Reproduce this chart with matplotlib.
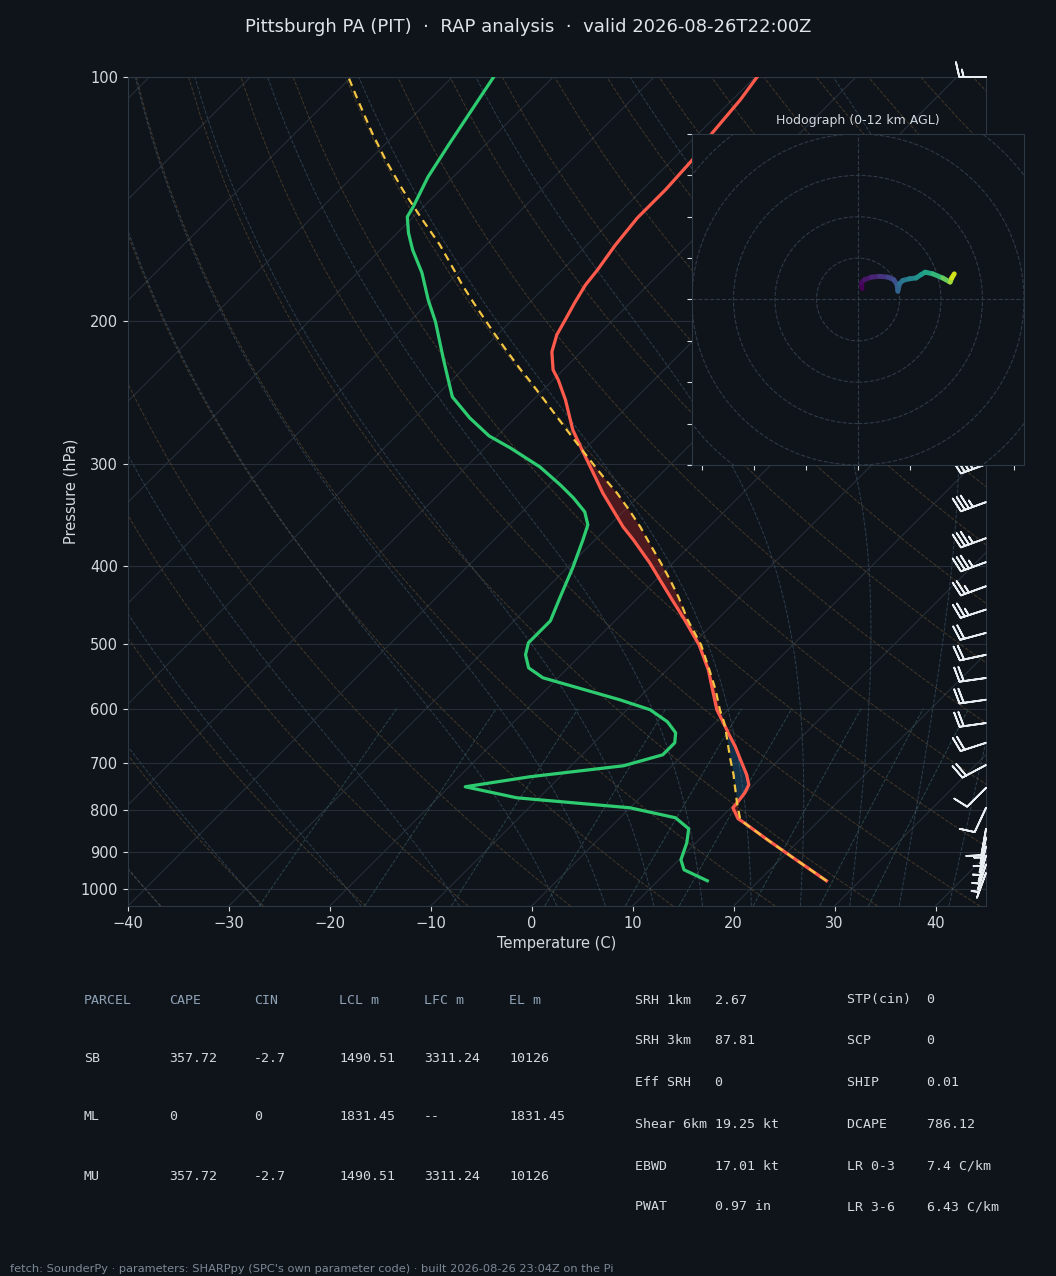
import numpy as np
import matplotlib
matplotlib.use('Agg')
import matplotlib.pyplot as plt
import matplotlib.transforms as mtransforms
from matplotlib.collections import LineCollection
from matplotlib.patches import Circle

BG = '#0f141a'
GRID = '#252e39'
SPINE = '#2d3845'
TXT = '#d3d9df'

# environment + surface parcel (hPa, C)
p_env = [977.6, 921.0, 870.3, 829.3, 819.9, 794.8, 781.4, 761.7, 744.6, 723.8,
         693.6, 668.5, 642.5, 622.8, 601.9, 568.8, 537.4, 500.6, 466.4, 436.9,
         416.4, 396.8, 371.7, 358.3, 341.4, 325.3, 313.5, 302.2, 288.0, 272.1,
         249.9, 236.1, 229.5, 218.1, 207.8, 199.8, 189.8, 180.4, 172.9, 161.0,
         149.2, 137.8, 126.5, 117.2, 106.7, 100.0]
temp = [26.7, 21.6, 16.8, 12.8, 11.8, 10.2, 10.1, 9.9, 9.5, 8.3,
        6.2, 4.4, 2.3, 0.7, -1.1, -3.5, -5.9, -9.3, -13.2, -16.9,
        -19.6, -22.3, -26.2, -28.5, -31.2, -33.9, -35.8, -37.7, -40.2, -43.1,
        -46.8, -49.5, -51.0, -52.9, -54.1, -54.7, -55.5, -56.2, -56.5, -57.2,
        -57.7, -57.7, -58.0, -58.7, -59.2, -59.8]
parcel = [26.7, 21.6, 16.8, 12.8, 12.0, 10.7, 10.0, 9.0, 8.1, 7.0,
          5.2, 3.7, 2.1, 0.8, -0.8, -3.2, -5.8, -9.1, -12.9, -16.1,
          -18.6, -21.2, -24.8, -26.8, -29.6, -32.5, -34.9, -37.2, -40.2, -43.7,
          -48.9, -52.4, -54.2, -57.3, -60.2, -62.5, -65.5, -68.4, -70.7, -74.6,
          -79.1, -83.7, -88.4, -92.4, -97.1, -100.3]

p_td = [977.6, 947.6, 921.0, 877.7, 843.5, 817.6, 794.8, 772.6, 748.8, 727.9,
        705.5, 683.9, 661.0, 642.5, 622.8, 601.9, 585.1, 549.7, 534.4, 515.0,
        497.8, 483.9, 467.7, 436.9, 401.3, 371.7, 356.2, 343.3, 330.0, 318.0,
        302.2, 286.4, 276.8, 263.0, 247.8, 232.8, 221.2, 200.3, 188.2, 174.3,
        163.3, 155.6, 148.7, 144.6, 132.8, 120.6, 100.0]
dewp = [14.9, 11.5, 10.2, 9.1, 7.9, 5.5, 0.0, -12.2, -18.4, -13.0,
        -4.8, -2.0, -2.0, -2.9, -4.8, -7.7, -11.7, -21.5, -23.9, -25.5,
        -26.4, -26.4, -26.4, -27.8, -29.5, -31.2, -32.2, -33.8, -36.3, -38.9,
        -42.7, -47.5, -50.8, -54.5, -58.3, -61.0, -63.2, -67.4, -70.3, -73.6,
        -76.8, -78.9, -80.6, -81.0, -82.5, -83.7, -85.9]

# winds (hPa, kt, deg)
p_barb = [100, 300, 334, 370, 396, 424, 453, 484, 515, 550, 585, 625, 661, 704,
          751, 795, 844, 865, 887, 910, 933, 956]
wspd = [15, 35, 35, 35, 35, 25, 25, 20, 20, 20, 20, 20, 20, 20,
        10, 10, 10, 5, 5, 5, 5, 5]
wdir = [270, 250, 250, 250, 250, 250, 252, 255, 258, 262, 262, 262, 252, 242,
        225, 205, 190, 192, 194, 196, 198, 200]

# hodograph (kt) coloured by height (km AGL)
hodo_u = [1.0, 0.8, 1.6, 3.2, 5.2, 7.2, 8.6, 9.4, 9.6, 10.0, 10.8, 12.4, 14.0,
          15.2, 16.2, 18.0, 20.4, 22.2, 22.6, 23.2]
hodo_v = [2.6, 4.0, 4.8, 5.4, 5.6, 5.4, 4.8, 3.6, 2.0, 3.8, 4.6, 5.0, 5.2,
          6.0, 6.6, 6.2, 5.2, 4.2, 5.2, 6.2]
hodo_z = [0.0, 0.3, 0.7, 1.2, 1.8, 2.4, 2.9, 3.3, 3.8, 4.3, 4.8, 5.4, 6.0,
          6.6, 7.2, 8.0, 9.2, 10.4, 11.2, 12.0]

table_cols = ['PARCEL', 'CAPE', 'CIN', 'LCL m', 'LFC m', 'EL m']
table_rows = [['SB', '357.72', '-2.7', '1490.51', '3311.24', '10126'],
              ['ML', '0', '0', '1831.45', '--', '1831.45'],
              ['MU', '357.72', '-2.7', '1490.51', '3311.24', '10126']]
params_a = [('SRH 1km', '2.67'), ('SRH 3km', '87.81'), ('Eff SRH', '0'),
            ('Shear 6km', '19.25 kt'), ('EBWD', '17.01 kt'), ('PWAT', '0.97 in')]
params_b = [('STP(cin)', '0'), ('SCP', '0'), ('SHIP', '0.01'),
            ('DCAPE', '786.12'), ('LR 0-3', '7.4 C/km'), ('LR 3-6', '6.43 C/km')]


def moist_rate(T, p):
    es = 6.112 * np.exp(17.67 * (T - 273.15) / (T - 29.65))
    rs = 0.622 * es / (p - es)
    return (287.04 * T + 2.501e6 * rs) / (1005.7 + 2.501e6 ** 2 * rs * 0.622 / (287.04 * T ** 2))


def moist_adiabats(t0, p_end, n):
    x = np.linspace(np.log(1000.0), np.log(p_end), n)
    T = np.zeros((n, len(t0)))
    T[0] = t0 + 273.15
    for i in range(n - 1):
        h = x[i + 1] - x[i]
        t = T[i]
        k1 = moist_rate(t, np.exp(x[i]))
        k2 = moist_rate(t + h * k1 / 2, np.exp(x[i] + h / 2))
        k3 = moist_rate(t + h * k2 / 2, np.exp(x[i] + h / 2))
        k4 = moist_rate(t + h * k3, np.exp(x[i + 1]))
        T[i + 1] = t + h * (k1 + 2 * k2 + 2 * k3 + k4) / 6
    return np.exp(x), T - 273.15


fig = plt.figure(figsize=(10.56, 12.76), dpi=100, facecolor=BG)
ax = fig.add_axes([0.1212, 0.2900, 0.8125, 0.6497], facecolor=BG)
ax.set_yscale('log')
ax.set_ylim(1050, 100)
ax.set_xlim(-40, 45)
ax.autoscale(False)

# skew 45 deg on screen
pos = ax.get_position()
k = (pos.height * 12.76) / (pos.width * 10.56)
skew = ax.transScale + ax.transLimits + mtransforms.Affine2D().skew(np.arctan(k), 0) + ax.transAxes

for p in range(100, 1001, 100):
    ax.axhline(p, color=GRID, lw=0.8, zorder=1)
for t in range(-130, 50, 10):
    ax.plot([t, t], [1050, 100], color=GRID, lw=0.8, transform=skew, zorder=1)

pp = np.linspace(1050, 100, 80)
for t0 in np.arange(-40, 250, 10):
    ax.plot((t0 + 273.15) * (pp / 1000.0) ** 0.2857 - 273.15, pp, color='#6e5535',
            lw=0.7, ls='--', alpha=0.55, transform=skew, zorder=1)

moist_t0 = np.concatenate((np.arange(-40, 0, 10), np.arange(0, 46, 5))).astype(float)
pu, tu = moist_adiabats(moist_t0, 100.0, 150)
pd, tdn = moist_adiabats(moist_t0, 1050.0, 6)
for i in range(len(moist_t0)):
    ax.plot(np.concatenate((tdn[::-1, i], tu[1:, i])), np.concatenate((pd[::-1], pu[1:])),
            color='#3a4f63', lw=0.7, ls='--', alpha=0.7, transform=skew, zorder=1)

pm = np.linspace(1050, 600, 30)
for w in [0.0004, 0.001, 0.002, 0.004, 0.007, 0.01, 0.016, 0.024, 0.032]:
    a = np.log(pm * w / (0.622 + w) / 6.112)
    ax.plot(243.5 * a / (17.67 - a), pm, color='#355a5e', lw=0.7, ls='--', alpha=0.7,
            transform=skew, zorder=1)

pe = np.array(p_env)
te = np.array(temp)
tp = np.array(parcel)
ax.fill_betweenx(pe, te, tp, where=tp > te, interpolate=True, color='tab:red', alpha=0.3,
                 lw=0, transform=skew, zorder=2)
ax.fill_betweenx(pe, te, tp, where=(tp < te) & (pe > 600), interpolate=True, color='tab:blue',
                 alpha=0.3, lw=0, transform=skew, zorder=2)

ax.plot(temp, p_env, color='#ff5a4b', lw=2.3, transform=skew, zorder=4)
ax.plot(dewp, p_td, color='#2ecc71', lw=2.3, transform=skew, zorder=4)
ax.plot(parcel, p_env, color='#f4c542', lw=1.6, ls=(0, (3.5, 2.5)), transform=skew, zorder=5)

spd = np.array(wspd, dtype=float)
rad = np.radians(wdir)
bt = mtransforms.blended_transform_factory(ax.transAxes, ax.transData)
ax.barbs(np.ones(len(p_barb)), p_barb, -spd * np.sin(rad), -spd * np.cos(rad), transform=bt,
         length=6.2, sizes=dict(height=0.55, spacing=0.16), color='#e8edf2', linewidth=1.3,
         clip_on=False, zorder=6)

ax.set_yticks(range(100, 1001, 100))
ax.set_yticklabels([str(p) for p in range(100, 1001, 100)])
ax.yaxis.set_minor_locator(matplotlib.ticker.NullLocator())
ax.set_xticks(range(-40, 41, 10))
ax.tick_params(colors=TXT, labelsize=10.5)
for s in ax.spines.values():
    s.set_color(SPINE)
ax.set_xlabel('Temperature (C)', color=TXT, fontsize=10.5)
ax.set_ylabel('Pressure (hPa)', color=TXT, fontsize=10.5, labelpad=2)

# hodograph inset
hax = fig.add_axes([0.6553, 0.6356, 0.3144, 0.2594], facecolor=BG)
hax.set_xlim(-40, 40)
hax.set_ylim(-40, 40)
for r in range(10, 70, 10):
    hax.add_patch(Circle((0, 0), r, fill=False, ec='#2f3a47', lw=0.8, ls='--'))
hax.axhline(0, color='#2f3a47', lw=0.8, ls='--')
hax.axvline(0, color='#2f3a47', lw=0.8, ls='--')
pts = np.column_stack([hodo_u, hodo_v])
segs = np.stack([pts[:-1], pts[1:]], axis=1)
lc = LineCollection(segs, cmap='viridis', norm=plt.Normalize(0, 12), linewidths=3.5,
                    capstyle='round')
lc.set_array(np.array(hodo_z[:-1]))
hax.add_collection(lc)
hax.set_xticks([-37.5, -25, -12.5, 0, 12.5, 25, 37.5])
hax.set_yticks(range(-40, 41, 10))
hax.set_xticklabels([])
hax.set_yticklabels([])
hax.tick_params(colors=TXT)
for s in hax.spines.values():
    s.set_color(SPINE)
hax.set_title('Hodograph (0-12 km AGL)', color=TXT, fontsize=9, pad=7)

fig.text(0.5, 1 - 27 / 1276, 'Pittsburgh PA (PIT)  \u00b7  RAP analysis  \u00b7  valid 2026-08-26T22:00Z',
         ha='center', va='center', color='#dfe4ea', fontsize=13)

# parameter tables
mono = 'DejaVu Sans Mono'
col_x = [84, 169, 254, 339, 424, 509]
row_y = [1000, 1058, 1117, 1176]
for j, c in enumerate(table_cols):
    fig.text(col_x[j] / 1056, 1 - row_y[0] / 1276, c, family=mono, fontsize=9.5,
             color='#8fa2b6', va='center')
for i, row in enumerate(table_rows):
    for j, c in enumerate(row):
        fig.text(col_x[j] / 1056, 1 - row_y[i + 1] / 1276, c, family=mono, fontsize=9.5,
                 color=TXT, va='center')

prm_y = [1000, 1041, 1083, 1124, 1166, 1207]
for i in range(6):
    fig.text(635 / 1056, 1 - prm_y[i] / 1276, f'{params_a[i][0]:<10}{params_a[i][1]}',
             family=mono, fontsize=9.5, color=TXT, va='center')
    fig.text(847 / 1056, 1 - prm_y[i] / 1276, f'{params_b[i][0]:<10}{params_b[i][1]}',
             family=mono, fontsize=9.5, color=TXT, va='center')

fig.text(10 / 1056, 1 - 1269 / 1276,
         "fetch: SounderPy \u00b7 parameters: SHARPpy (SPC's own parameter code) \u00b7 built 2026-08-26 23:04Z on the Pi",
         fontsize=8.2, color='#7d8896', va='center')

fig.savefig('out.png', dpi=100, facecolor=BG)
